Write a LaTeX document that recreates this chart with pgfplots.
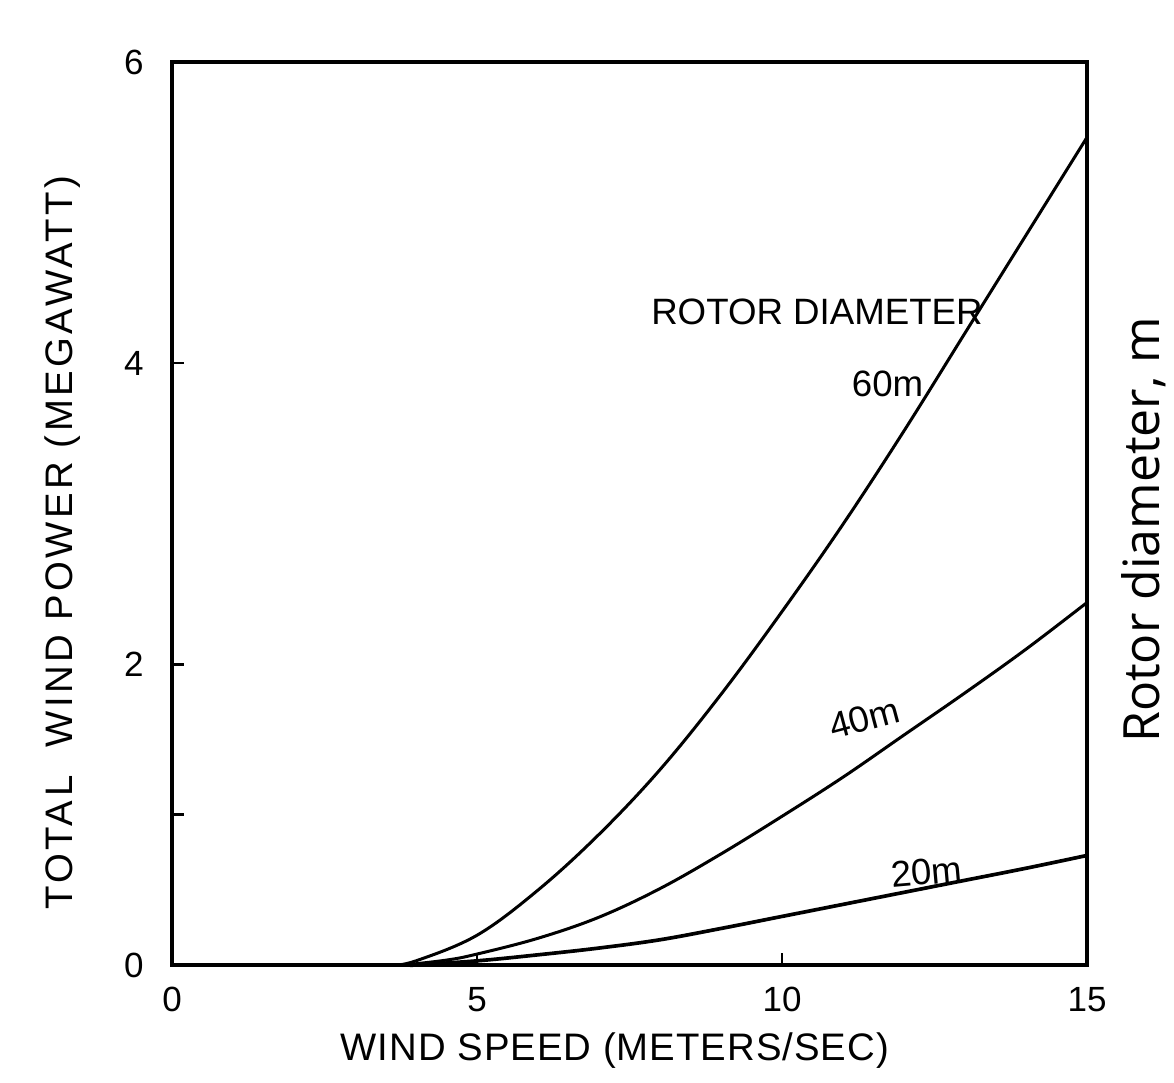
\documentclass[border=0pt]{standalone}
\usepackage{fontspec}
\setmainfont{Liberation Sans}
\newfontfamily\rotorfont{Open Sans}
\usepackage{pgfplots}
\pgfplotsset{compat=1.18}
\begin{document}
\begin{tikzpicture}
\useasboundingbox (-51.6pt,-35.1pt) rectangle (300.6pt,289.6pt);
\begin{axis}[
  at={(0pt,0pt)}, anchor=south west,
  scale only axis, width=274.5pt, height=271pt,
  xmin=0, xmax=15, ymin=0, ymax=6,
  axis line style={line width=1.2pt},
  tick pos=left, tick align=inside,
  major tick length=3.6pt,
  tick style={line width=0.8pt, black},
  xtick={0,5,10,15},
  ytick={0,1,2,4,6}, yticklabels={0,,2,4,6},
  /pgf/number format/assume math mode=true,
  ticklabel style={font=\fontsize{10.5}{12}\selectfont},
  xticklabel style={yshift=-3pt},
  yticklabel style={xshift=-5pt},
  xlabel={WIND SPEED (METERS/SEC)},
  xlabel style={font=\fontsize{11.5}{13}\selectfont\addfontfeatures{LetterSpace=2.6}, at={(axis description cs:0.484,-0.094)}, anchor=center},
  ylabel={TOTAL\ \ WIND POWER (MEGAWATT)},
  ylabel style={font=\fontsize{11.5}{13}\selectfont\addfontfeatures{LetterSpace=9}, at={(axis description cs:-0.12,0.468)}, anchor=center},
  clip=false,
]
% 60 m rotor
\addplot[black, line width=0.9pt, smooth, tension=0.6] coordinates {
  (3.6,0) (4,0.03) (5,0.2) (6,0.5) (7,0.87) (8,1.3) (9,1.8) (10,2.35)
  (11,2.93) (12,3.55) (13,4.2) (14,4.85) (15,5.5)};
% 40 m rotor
\addplot[black, line width=0.9pt, smooth, tension=0.6] coordinates {
  (3.75,0) (4.5,0.035) (5,0.075) (6,0.18) (7,0.32) (8,0.51) (9,0.74) (10,0.99)
  (11,1.25) (12,1.53) (13,1.81) (14,2.1) (15,2.41)};
% 20 m rotor
\addplot[black, line width=1.1pt, smooth, tension=0.6] coordinates {
  (3.9,0) (5,0.03) (6,0.07) (7,0.115) (8,0.17) (9,0.245) (10,0.325)
  (11,0.405) (12,0.485) (13,0.565) (14,0.645) (15,0.73)};

\node[anchor=east, inner sep=0pt, font=\fontsize{11}{12}\selectfont] at (axis cs:13.3,4.34) {ROTOR DIAMETER};
\node[font=\fontsize{11}{12}\selectfont] at (axis cs:11.73,3.865) {60m};
\node[rotate=15, font=\fontsize{11}{12}\selectfont] at (axis cs:11.35,1.64) {40m};
\node[rotate=5, font=\fontsize{11}{12}\selectfont] at (axis cs:12.37,0.62) {20m};
\node[rotate=90, font=\rotorfont\fontsize{15}{17}\selectfont] at (axis description cs:1.062,0.482) {Rotor diameter, m};
\end{axis}
\end{tikzpicture}
\end{document}
